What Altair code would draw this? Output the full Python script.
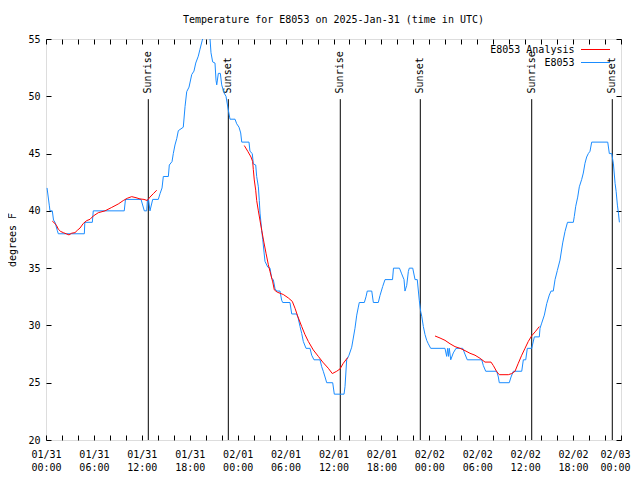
import altair as alt
import pandas as pd

FONT = "DejaVu Sans Mono"
BLUE = "#1a8cff"
RED = "#ff0000"

# Observed temperature (hours after 2025-01-31 00:00 UTC, degrees F)
obs_hours = [0.13, 0.41, 0.50, 0.79, 0.94, 1.13, 1.41, 1.54, 4.80, 4.86, 5.80, 5.92, 9.80, 9.95,
             11.90, 12.31, 12.61, 12.71, 12.84, 13.02, 13.36, 14.06, 14.28, 14.53, 14.69, 15.32,
             15.44, 15.78, 15.94, 16.15, 16.37, 16.57, 17.19, 17.41, 17.62, 17.91, 18.25, 18.53,
             18.75, 19.07, 19.28, 19.57, 20.04, 20.54, 20.66, 20.87, 21.16, 21.29, 21.38, 21.58,
             21.83, 22.00, 22.29, 22.54, 22.83, 23.04, 23.67, 23.88, 24.17, 24.38, 24.51, 25.42,
             25.54, 25.83, 25.96, 26.26, 26.38, 26.59, 26.71, 26.80, 27.01, 27.14, 27.30, 27.42,
             27.76, 28.05, 28.26, 28.46, 28.68, 28.89, 29.30, 29.51, 29.64, 30.55, 30.77, 31.39,
             31.59, 31.81, 32.02, 32.22, 32.56, 33.06, 33.27, 33.56, 34.31, 34.52, 34.72, 34.94,
             35.15, 35.90, 36.10, 37.32, 37.44, 37.65, 37.94, 38.28, 38.48, 38.69, 38.91, 39.11,
             39.23, 39.86, 40.07, 40.23, 40.79, 40.99, 41.61, 41.82, 42.16, 42.45, 43.39, 43.51,
             44.26, 44.54, 44.83, 44.95, 45.17, 45.37, 45.49, 45.92, 46.21, 46.49, 46.74, 46.92,
             47.05, 47.25, 47.46, 47.67, 47.87, 48.17, 49.96, 50.17, 50.30, 50.40, 50.50, 50.68,
             51.00, 51.34, 52.18, 52.46, 52.75, 54.56, 54.76, 55.06, 56.44, 56.64, 56.76, 58.01,
             58.23, 58.52, 59.57, 59.77, 60.07, 60.27, 60.82, 61.15, 61.77, 61.86, 62.07, 62.40,
             62.70, 63.02, 63.24, 63.52, 63.74, 64.03, 64.36, 64.70, 64.99, 65.30, 66.03, 66.15,
             66.33, 66.58, 66.78, 67.08, 67.28, 67.49, 67.70, 67.91, 68.12, 68.33, 70.34, 70.54,
             70.84, 71.05, 71.26, 71.39, 71.55, 71.68, 71.80]
obs_temps = [42, 40.5, 40, 40, 39.2, 39, 38.3, 38, 38, 39, 39, 40, 40, 41,
             41, 40, 40, 41, 41, 40, 41, 41, 41.5, 42, 43, 43,
             44, 44.3, 45, 45.75, 46.3, 47, 47.3, 49.1, 50.4, 50.8, 51.9, 52.2,
             52.9, 53.5, 54.1, 54.9, 56, 55, 53.8, 53, 52.9, 51.4, 51, 52,
             52, 51, 50.3, 50, 48.8, 48, 48, 47.6, 47.3, 46.8, 46, 46,
             45.2, 45, 44.1, 44, 43, 42.1, 40.9, 39.8, 38.3, 37.5, 36.4, 35.6,
             35.1, 35, 34.1, 34, 33.2, 33, 33, 32.2, 32, 32, 31, 31,
             30.6, 29.9, 29.3, 28.6, 28, 28, 27.4, 27, 27, 26.4, 26, 25.5,
             25, 25, 24, 24, 24.65, 27, 27.4, 28.1, 28.9, 29.75, 30.9, 31.6,
             32, 32, 32.5, 33, 33, 32, 32, 32.6, 33.4, 34, 34, 35,
             35, 34.5, 34, 33, 33.5, 34.7, 35, 35, 34, 34, 32.2, 31.2,
             30.8, 29.9, 29.2, 28.7, 28.4, 28, 28, 27.3, 28, 27.3, 28, 27,
             27.6, 28, 28, 27.5, 27, 27, 26.5, 26, 26, 25.5, 25, 25,
             25.5, 26, 26, 27, 27, 28, 28, 29, 29, 29.75, 30.2, 30.9,
             31.9, 32.65, 33, 33, 34, 34.8, 35.7, 37.2, 38.2, 39, 39, 39.5,
             40.4, 41.2, 42.1, 42.75, 43.3, 44.15, 44.7, 45, 45.2, 46, 46, 45,
             45, 44.1, 42.4, 41.7, 40.5, 39.8, 39]

# Analysis curve, in three separate runs
ana_hours = [0.79, 1.13, 1.34, 1.54, 1.84, 2.17, 2.59, 2.88, 3.22, 3.63, 3.92, 4.26, 4.67, 5.10,
             5.51, 5.92, 6.55, 7.39, 8.23, 9.05, 9.68, 10.18, 10.73, 11.27, 11.77, 12.27, 12.68,
             13.02, 13.44, 13.86,
             24.83, 25.26, 25.67, 25.88, 25.96, 26.08, 26.26, 26.38, 26.59, 27.01, 27.30, 27.55,
             27.84, 28.05, 28.39, 28.59, 28.96, 29.71, 30.34, 30.84, 31.18, 31.47, 32.02, 32.43,
             32.85, 33.47, 34.10, 34.65, 35.35, 35.85, 36.40, 36.81, 37.23, 37.78,
             48.71, 49.34, 49.96, 50.59, 51.21, 51.84, 52.47, 53.09, 53.72, 54.35, 54.97, 55.72,
             56.01, 56.44, 56.76, 57.89, 58.32, 58.73, 59.14, 59.57, 59.98, 60.39, 60.82, 61.32,
             61.77]
ana_temps = [39.1, 38.9, 38.7, 38.4, 38.2, 38.1, 37.98, 37.9, 38.05, 38.1, 38.3, 38.5, 38.9, 39.15,
             39.26, 39.55, 39.84, 40.0, 40.3, 40.6, 40.9, 41.1, 41.24, 41.15, 41.04, 41.0, 40.9,
             41.2, 41.5, 41.8,
             45.7, 45.2, 44.7, 44.3, 43.6, 42.7, 41.8, 40.9, 40.0, 38.3, 37.2, 36.3,
             35.3, 34.7, 33.8, 33.1, 32.9, 32.7, 32.4, 32.1, 31.5, 30.9, 29.9, 29.2,
             28.6, 27.86, 27.3, 26.8, 26.26, 25.8, 26.0, 26.2, 26.7, 27.2,
             29.08, 28.9, 28.7, 28.4, 28.15, 28.0, 27.8, 27.57, 27.4, 27.13, 26.8, 26.8,
             26.5, 25.96, 25.7, 25.7, 25.8, 26.0, 26.7, 27.4, 28.0, 28.6, 29.1, 29.5,
             29.9]
ana_segment = [1] * 30 + [2] * 34 + [3] * 25

sun_hours = [12.81, 22.83, 36.85, 46.87, 60.82, 70.91]
sun_labels = ["Sunrise", "Sunset", "Sunrise", "Sunset", "Sunrise", "Sunset"]

legend_names = ["E8053 Analysis", "E8053"]
y_ticks = [20, 25, 30, 35, 40, 45, 50, 55]

T0 = pd.Timestamp("2025-01-31T00:00:00")


def to_iso(hours):
    return [(T0 + pd.Timedelta(hours=h)).strftime("%Y-%m-%dT%H:%M:%SZ") for h in hours]


def dt(ts):
    return alt.DateTime(year=ts.year, month=ts.month, date=ts.day, hours=ts.hour, utc=True)


x_tick_values = [dt(T0 + pd.Timedelta(hours=2 * i)) for i in range(37)]

obs_df = pd.DataFrame({"time": to_iso(obs_hours), "temp": obs_temps, "series": "E8053", "seg": 0})
ana_df = pd.DataFrame({"time": to_iso(ana_hours), "temp": ana_temps,
                       "series": "E8053 Analysis", "seg": ana_segment})
sun_df = pd.DataFrame({"time": to_iso(sun_hours), "label": sun_labels})

xscale = alt.Scale(type="utc", domain=[dt(T0), dt(T0 + pd.Timedelta(hours=72))])
yscale = alt.Scale(domain=[20, 55], nice=False, zero=False)
cscale = alt.Scale(domain=legend_names, range=[RED, BLUE])

common_axis = dict(offset=-5, tickSize=5, domain=False, grid=False, tickColor="black",
                   labelFont=FONT, labelFontSize=10, labelColor="black")

# last label pulled slightly left so it stays inside the page
bottom_axis = alt.Axis(orient="bottom", values=x_tick_values, title=None,
                       labelExpr="utchours(datum.value) % 6 == 0 ? [utcFormat(datum.value, '%m/%d'), utcFormat(datum.value, '%H:%M')] : ''",
                       labelOffset={"condition": {"test": "utcdate(datum.value) == 3", "value": -6},
                                    "value": 0},
                       labelPadding=9, labelLineHeight=13, labelOverlap=False, labelFlush=False,
                       **common_axis)
left_axis = alt.Axis(orient="left", values=y_ticks, title="degrees F", titleFont=FONT,
                     titleFontSize=10, titleFontWeight="normal", titleColor="black",
                     titlePadding=10, labelPadding=6, **common_axis)
top_axis = alt.Axis(orient="top", values=x_tick_values, title=None, labels=False,
                    offset=-5, tickSize=5, domain=False, grid=False, tickColor="black")
right_axis = alt.Axis(orient="right", values=y_ticks, title=None, labels=False,
                      offset=-5, tickSize=5, domain=False, grid=False, tickColor="black")

obs_line = alt.Chart(obs_df).mark_line(strokeWidth=1, clip=True).encode(
    x=alt.X("time:T", scale=xscale, axis=bottom_axis),
    y=alt.Y("temp:Q", scale=yscale, axis=left_axis),
    color=alt.Color("series:N", scale=cscale, legend=None),
)

ana_line = alt.Chart(ana_df).mark_line(strokeWidth=1, clip=True).encode(
    x=alt.X("time:T", scale=xscale, axis=None),
    y=alt.Y("temp:Q", scale=yscale, axis=None),
    color=alt.Color("series:N", scale=cscale, legend=None),
    detail="seg:N",
)

sun_rules = alt.Chart(sun_df).mark_rule(color="black", strokeWidth=1).encode(
    x=alt.X("time:T", scale=xscale, axis=top_axis),
    y=alt.YDatum(49.75, type="quantitative", scale=yscale, axis=right_axis),
    y2=alt.Y2Datum(20),
)

sun_text = alt.Chart(sun_df).mark_text(angle=270, align="left", baseline="middle", font=FONT,
                                       fontSize=10, color="black").encode(
    x=alt.X("time:T", scale=xscale, axis=None),
    y=alt.YDatum(50.25, type="quantitative", scale=yscale, axis=None),
    text="label:N",
)

# gnuplot-style key in the top-right corner: label, then a line sample
key_layers = []
for i, name in enumerate(legend_names):
    kdf = pd.DataFrame({"series": [name]})
    key_layers.append(
        alt.Chart(kdf).mark_rule(strokeWidth=1).encode(
            x=alt.value(535), x2=alt.value(564), y=alt.value(10.5 + 13 * i),
            color=alt.Color("series:N", scale=cscale, legend=None),
        )
    )
    key_layers.append(
        alt.Chart(kdf).mark_text(align="right", baseline="middle", font=FONT, fontSize=10,
                                 color="black").encode(
            x=alt.value(528.5), y=alt.value(11 + 13 * i), text="series:N",
        )
    )

chart = alt.layer(sun_rules, sun_text, obs_line, ana_line, *key_layers).resolve_axis(
    x="independent", y="independent"
).properties(
    width=575,
    height=401,
    title=alt.TitleParams("Temperature for E8053 on 2025-Jan-31 (time in UTC)", font=FONT,
                          fontSize=10, fontWeight="normal", color="black", anchor="middle",
                          offset=9),
    autosize=alt.AutoSizeParams(type="none"),
    padding={"left": 38, "top": 31, "right": 11, "bottom": 33},
).configure_view(stroke="black", strokeWidth=1).configure(background="white")

chart.save("out.html", embed_options={"renderer": "svg", "actions": False})
